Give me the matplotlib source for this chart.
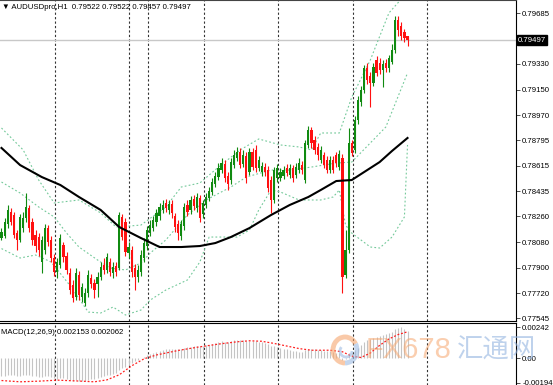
import numpy as np
import matplotlib.pyplot as plt
from matplotlib.patches import Arc

plt.rcParams['font.family'] = ['Liberation Sans', 'DejaVu Sans']

# AUDUSDpro H1 candles, prices in points (1e-5)
opens = np.array([
    78108, 78122, 78206, 78291, 78270, 78143, 78094, 78178, 78249, 78319,
    78220, 78129, 78115, 77940, 78024, 78178, 78094, 77968, 77870, 77919,
    78059, 77982, 77863, 77778, 77694, 77849, 77694, 77652, 77722, 77828,
    77792, 77785, 77835, 77919, 77884, 77940, 77863, 77912, 77898, 78256,
    78220, 78003, 78024, 77898, 77835, 77870, 77968, 78052, 78143, 78178,
    78220, 78263, 78305, 78354, 78305, 78347, 78263, 78206, 78122, 78192,
    78340, 78305, 78382, 78319, 78389, 78277, 78340, 78389, 78431, 78487,
    78536, 78585, 78627, 78543, 78515, 78620, 78669, 78712, 78627, 78684,
    78571, 78712, 78726, 78599, 78571, 78606, 78585, 78515, 78375, 78529,
    78529, 78543, 78599, 78550, 78599, 78550, 78585, 78620, 78515, 78761,
    78866, 78796, 78747, 78655, 78691, 78655, 78585, 78655, 78691, 78606,
    78669, 77849, 78024, 78775, 78726, 78936, 79062, 79147, 79301, 79245,
    79196, 79357, 79336, 79287, 79336, 79301, 79343, 79427, 79638, 79596,
    79553, 79522]) / 1e5
closes = np.array([
    78150, 78220, 78305, 78220, 78129, 78094, 78256, 78249, 78326, 78178,
    78094, 78052, 78024, 78094, 78178, 78080, 77968, 77870, 77940, 78108,
    77975, 77884, 77743, 77687, 77863, 77708, 77764, 77722, 77849, 77785,
    77743, 77835, 77905, 77884, 77975, 77870, 77905, 77870, 78270, 78115,
    78010, 78045, 77870, 77835, 77884, 77989, 78073, 78164, 78199, 78234,
    78284, 78326, 78340, 78319, 78347, 78284, 78185, 78143, 78206, 78326,
    78291, 78375, 78333, 78396, 78249, 78354, 78396, 78438, 78501, 78543,
    78599, 78634, 78529, 78487, 78641, 78691, 78712, 78620, 78691, 78529,
    78712, 78606, 78599, 78655, 78613, 78571, 78459, 78375, 78585, 78599,
    78571, 78585, 78564, 78599, 78529, 78606, 78634, 78585, 78775, 78866,
    78775, 78726, 78691, 78726, 78620, 78585, 78655, 78585, 78634, 78698,
    77835, 78024, 78775, 78705, 78936, 79076, 79147, 79301, 79217, 79196,
    79308, 79266, 79287, 79329, 79301, 79371, 79427, 79638, 79568, 79525,
    79511, 79497]) / 1e5
highs = np.array([
    78178, 78249, 78340, 78319, 78291, 78164, 78277, 78291, 78424, 78340,
    78249, 78164, 78143, 78122, 78206, 78199, 78122, 77996, 77968, 78136,
    78080, 78010, 77898, 77814, 77898, 77877, 77792, 77757, 77884, 77856,
    77821, 77870, 77940, 77968, 78003, 77968, 77940, 77940, 78291, 78277,
    78249, 78080, 78052, 77926, 77919, 78024, 78108, 78192, 78234, 78263,
    78312, 78354, 78375, 78382, 78375, 78375, 78284, 78234, 78234, 78354,
    78375, 78403, 78410, 78424, 78410, 78375, 78424, 78466, 78529, 78571,
    78634, 78669, 78655, 78571, 78669, 78726, 78747, 78740, 78726, 78712,
    78740, 78740, 78761, 78684, 78641, 78634, 78613, 78543, 78606, 78627,
    78599, 78613, 78627, 78627, 78620, 78634, 78669, 78648, 78796, 78894,
    78887, 78824, 78775, 78754, 78712, 78684, 78684, 78684, 78712, 78726,
    78698, 78164, 78880, 78796, 78964, 79104, 79175, 79322, 79336, 79273,
    79336, 79385, 79371, 79357, 79364, 79392, 79469, 79666, 79666, 79624,
    79575, 79522]) / 1e5
lows = np.array([
    78094, 78108, 78178, 78199, 78108, 78024, 78080, 78150, 78220, 78150,
    78059, 78010, 77982, 77863, 77996, 78052, 77940, 77842, 77828, 77898,
    77940, 77856, 77715, 77659, 77673, 77673, 77659, 77631, 77694, 77757,
    77687, 77694, 77814, 77856, 77863, 77842, 77828, 77842, 77884, 78094,
    77982, 77968, 77835, 77743, 77799, 77842, 77940, 78024, 78122, 78157,
    78192, 78234, 78284, 78291, 78277, 78249, 78150, 78094, 78094, 78164,
    78263, 78277, 78305, 78291, 78220, 78249, 78319, 78368, 78410, 78466,
    78515, 78564, 78501, 78445, 78487, 78599, 78648, 78599, 78606, 78494,
    78550, 78585, 78571, 78578, 78543, 78543, 78431, 78284, 78354, 78501,
    78508, 78522, 78543, 78529, 78501, 78529, 78564, 78557, 78494, 78740,
    78740, 78698, 78655, 78634, 78599, 78564, 78564, 78564, 78606, 78585,
    77722, 77828, 78003, 78684, 78705, 78908, 79034, 79126, 79189, 79027,
    79175, 79245, 79259, 79168, 79273, 79273, 79329, 79406, 79525, 79497,
    79483, 79457]) / 1e5

# moving average (black) read at sample bars
ma_bar = [0, 6, 13, 19, 25, 32, 38, 45, 51, 58, 64, 69, 74, 80, 87, 93, 99, 103, 108, 113, 118, 122, 126, 131]
ma_val = np.array([78740, 78620, 78536, 78480, 78396, 78305, 78185, 78108, 78045, 78045, 78052, 78073,
                   78115, 78178, 78270, 78340, 78396, 78445, 78508, 78515, 78585, 78641, 78719, 78810]) / 1e5

# bollinger bands read at sample bars
ub_bar = [0, 7, 12, 17, 25, 32, 37, 45, 53, 58, 64, 70, 77, 83, 90, 96, 100, 103, 109, 113, 119, 125, 131]
ub_val = np.array([78880, 78726, 78515, 78354, 78375, 78284, 78185, 78199, 78326, 78466, 78494, 78606,
                   78726, 78803, 78761, 78747, 78726, 78845, 78845, 79096, 79357, 79687, 79834]) / 1e5
mb_bar = [0, 6, 12, 17, 21, 25, 31, 35, 40, 45, 48, 53, 60, 66, 74, 79, 87, 93, 100, 108, 113, 119, 124, 131]
mb_val = np.array([78501, 78424, 78326, 78256, 78143, 78045, 77954, 77898, 77884, 77933, 78003, 78094,
                   78270, 78375, 78466, 78536, 78585, 78585, 78606, 78634, 78641, 78775, 78887, 79266]) / 1e5
lb_bar = [0, 6, 11, 16, 22, 28, 32, 36, 40, 45, 48, 53, 60, 64, 67, 76, 80, 83, 87, 90, 96, 103, 107,
          109, 111, 113, 119, 122, 126, 130, 131]
lb_val = np.array([78034, 77968, 77989, 77940, 77778, 77589, 77582, 77624, 77568, 77603, 77673, 77743,
                   77814, 77940, 78115, 78115, 78164, 78305, 78445, 78431, 78375, 78375, 78396, 78445,
                   78199, 78143, 78045, 78038, 78115, 78256, 78761]) / 1e5

# MACD(12,26,9): main histogram per bar and signal at sample bars (1e-5)
macd_hist = np.array([
    -140, -138, -132, -130, -135, -140, -138, -134, -128, -130,
    -136, -142, -148, -146, -140, -142, -150, -158, -160, -154,
    -156, -162, -170, -176, -172, -175, -176, -176, -168, -165,
    -162, -156, -148, -142, -134, -130, -124, -120, -90, -80,
    -70, -55, -40, -25, -12, 0, 12, 24, 34, 44,
    52, 58, 64, 68, 72, 72, 70, 70, 74, 82,
    84, 90, 92, 96, 94, 96, 100, 104, 110, 118,
    126, 132, 130, 130, 134, 140, 144, 140, 142, 136,
    138, 134, 132, 128, 126, 120, 112, 96, 92, 86,
    80, 74, 68, 62, 56, 54, 52, 50, 62, 72,
    72, 68, 64, 62, 58, 54, 54, 48, 44, 42,
    -15, -5, 40, 44, 60, 80, 100, 126, 140, 150,
    158, 166, 172, 178, 186, 198, 206, 228, 236, 242,
    230, 215]) / 1e5
sig_bar = [0, 6, 12, 18, 24, 30, 34, 38, 42, 46, 50, 57, 63, 70, 76, 80, 84, 88, 92, 96,
           100, 106, 110, 113, 116, 119, 122, 125, 128, 131]
sig_val = np.array([-175, -185, -180, -172, -178, -185, -170, -130, -60, -5, 25, 60, 85, 110, 128, 136,
                    132, 115, 95, 75, 62, 62, 50, 15, 5, 40, 100, 150, 185, 206]) / 1e5

price_ticks = [0.79685, 0.79330, 0.79150, 0.78970, 0.78795, 0.78615,
               0.78435, 0.78260, 0.78080, 0.77900, 0.77720, 0.77545]
macd_ticks = [0.00242, 0.0, -0.00194]
macd_labels = ['0.00242', '0.00', '-0.001942']
day_breaks = [17.3, 41.3, 47.3, 65.3, 89.3, 113.3, 137.3]

bars = np.arange(len(opens))

#=============#
fig = plt.figure(figsize=(5.53, 3.85), dpi=100)
ax = fig.add_axes([0, 64 / 385, 516 / 553, 321 / 385])
ax2 = fig.add_axes([0, 0, 516 / 553, 62 / 385])

for a in (ax, ax2):
    a.set_xlim(-0.48, 166)
    a.spines['left'].set_visible(False)
    a.set_xticks([])
    a.yaxis.tick_right()
    a.tick_params(axis='y', labelsize=5.6, length=3, width=0.6, pad=1.5, color='#333333')
    for b in day_breaks:
        a.axvline(b, color='#333333', ls=(0, (2, 2)), lw=0.8, zorder=1)

# price panel
ax.set_ylim(0.77526, 0.79778)
up = closes >= opens
col = np.where(up, '#108a10', '#ff1010')
ax.vlines(bars, lows, highs, colors=col, lw=0.8, zorder=3)
body = np.maximum(np.abs(closes - opens), 0.00003)
ax.bar(bars, body, bottom=np.minimum(opens, closes), width=0.7, color=col, lw=0, zorder=3)

band_kw = dict(color='#74c99a', ls=(0, (1.6, 2)), lw=0.8, zorder=2)
ax.plot(ub_bar, ub_val, **band_kw)
ax.plot(mb_bar, mb_val, **band_kw)
ax.plot(lb_bar, lb_val, **band_kw)
ax.plot(ma_bar, ma_val, color='black', lw=1.5, zorder=4)
ax.axhline(closes[-1], color='#c8c8c8', lw=1, zorder=1)

ax.set_yticks(price_ticks)
ax.set_yticklabels([f'{t:.5f}' for t in price_ticks])
ax.text(1.004, closes[-1], f'{closes[-1]:.5f}', transform=ax.get_yaxis_transform(),
        fontsize=5.6, color='white', va='center', ha='left',
        bbox=dict(boxstyle='square,pad=0.15', fc='black', ec='black'), clip_on=False)
ax.text(0.004, 0.988,
        f'\u25bc AUDUSDpro,H1  {opens[-1]:.5f} {highs[-1]:.5f} {lows[-1]:.5f} {closes[-1]:.5f}',
        transform=ax.transAxes, fontsize=5.6, va='top', ha='left')
ax.spines['top'].set_color('#444444')

# MACD panel
ax2.set_ylim(-0.00210, 0.00275)
ax2.vlines(bars, 0, macd_hist, colors='#c4c4c4', lw=0.8, zorder=2)
ax2.plot(sig_bar, sig_val, color='#ff2020', ls=(0, (1.5, 1.5)), lw=0.9, zorder=3)
ax2.set_yticks(macd_ticks)
ax2.set_yticklabels(macd_labels)
ax2.spines['bottom'].set_visible(False)
ax2.text(0.002, 0.90, 'MACD(12,26,9) 0.002153 0.002062', transform=ax2.transAxes,
         fontsize=5.6, va='top', ha='left')

# watermark
ov = fig.add_axes([0, 0, 1, 1])
ov.set_xlim(0, 553)
ov.set_ylim(385, 0)
ov.axis('off')
ov.add_patch(Arc((345, 350), 24, 26, theta1=90, theta2=330, color='#f6a66e', lw=3.5, alpha=0.6))
ov.add_patch(Arc((345, 350), 24, 26, theta1=330, theta2=450, color='#9dbbe3', lw=3.5, alpha=0.6))
ov.add_patch(Arc((346, 351), 12, 12, theta1=0, theta2=220, color='#9dbbe3', lw=2, alpha=0.6))
ov.text(366, 350, 'FX678', fontsize=21, color='#f6a66e', alpha=0.55, va='center', ha='left',
        family=['Liberation Sans Narrow', 'Liberation Sans'])
ov.text(457, 350, '汇通网', fontsize=19, color='#94b4e0', alpha=0.6, va='center', ha='left',
        family=['Noto Sans CJK SC', 'DejaVu Sans'])

fig.savefig('out.png', dpi=100)
